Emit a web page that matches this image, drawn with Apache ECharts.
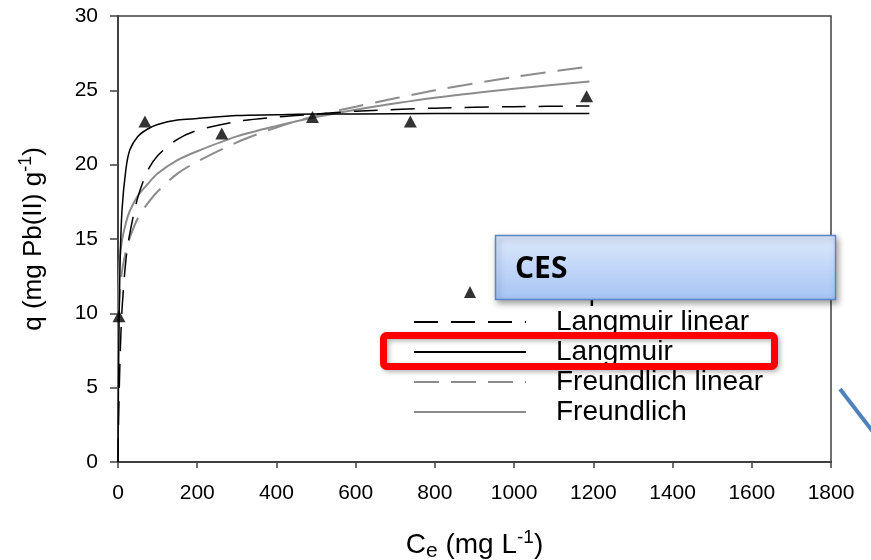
<!DOCTYPE html>
<html>
<head>
<meta charset="utf-8">
<script src="https://cdn.jsdelivr.net/npm/echarts@6/dist/echarts.min.js"></script>
<style>html,body{margin:0;padding:0;background:#fff}#c{width:871px;height:560px}</style>
</head>
<body>
<div id="c"></div>
<script>
// Experimental data (Ce, q)
const expCe = [2.5, 68, 262, 491, 738, 1183];
const expQ  = [9.8, 22.9, 22.1, 23.2, 22.9, 24.6];

// Model curves at these Ce values
const curveCe = [0, 0.5, 2, 5, 10, 20, 30, 50, 75, 100, 150, 200, 300, 400, 500, 600, 800, 1000, 1190];
const langmuirLinearQ   = [0, 1.2, 3.5, 6.8, 10.2, 13.6, 15.4, 17.8, 19.6, 20.6, 21.7, 22.3, 22.9, 23.2, 23.4, 23.6, 23.8, 23.9, 23.95];
const langmuirQ         = [0, 2.6, 7.9, 13.1, 16.9, 19.7, 21.0, 21.9, 22.4, 22.7, 23.0, 23.1, 23.3, 23.35, 23.4, 23.4, 23.45, 23.45, 23.45];
const freundlichLinearQ = [0, 8.1, 10.0, 11.5, 12.8, 14.2, 15.1, 16.4, 17.4, 18.2, 19.4, 20.2, 21.5, 22.5, 23.3, 23.9, 25.0, 25.9, 26.6];
const freundlichQ       = [0, 10.6, 12.4, 13.8, 14.9, 16.1, 16.9, 17.9, 18.7, 19.4, 20.3, 20.9, 21.9, 22.6, 23.2, 23.7, 24.5, 25.1, 25.6];

const xTicks = [0, 200, 400, 600, 800, 1000, 1200, 1400, 1600, 1800];
const yTicks = [0, 5, 10, 15, 20, 25, 30];

const pairs = (xs, ys) => xs.map((x, i) => [x, ys[i]]);

const axisColor = '#404040';
const font = 'Liberation Sans, Arial, sans-serif';
const hiddenSymbol = {color: 'rgba(0,0,0,0)', borderWidth: 0, opacity: 0};

const chart = echarts.init(document.getElementById('c'), null, {renderer: 'canvas'});
chart.setOption({
  animation: false,
  backgroundColor: '#fff',
  grid: {left: 118, right: 40, top: 16, bottom: 98, outerBoundsMode: 'none', containLabel: false,
         show: true, borderColor: axisColor, borderWidth: 1.5, backgroundColor: 'transparent'},
  xAxis: {
    type: 'value', min: xTicks[0], max: xTicks[xTicks.length - 1], interval: 200,
    axisLine: {show: true, lineStyle: {color: axisColor, width: 2}},
    axisTick: {show: true, inside: false, length: 6, lineStyle: {color: axisColor, width: 1.5}},
    axisLabel: {color: '#000', fontSize: 21, fontFamily: font, margin: 21, formatter: v => String(v)},
    splitLine: {show: false},
    name: 'C{sub|e} (mg L{sup|-1})',
    nameLocation: 'middle', nameGap: 66,
    nameTextStyle: {color: '#000', fontSize: 28, fontFamily: font,
      rich: {sub: {fontSize: 21, fontFamily: font, color: '#000', padding: [13, 0, 0, 0]},
             sup: {fontSize: 19, fontFamily: font, color: '#000', padding: [0, 0, 15, 0]}}}
  },
  yAxis: {
    type: 'value', min: yTicks[0], max: yTicks[yTicks.length - 1], interval: 5,
    axisLine: {show: true, lineStyle: {color: axisColor, width: 2}},
    axisTick: {show: true, inside: false, length: 8, lineStyle: {color: axisColor, width: 1.5}},
    axisLabel: {color: '#000', fontSize: 21, fontFamily: font, margin: 20},
    splitLine: {show: false},
    name: 'q (mg Pb(II) g{sup|-1})',
    nameLocation: 'middle', nameGap: 68,
    nameTextStyle: {color: '#000', fontSize: 26, fontFamily: font,
      rich: {sup: {fontSize: 18, fontFamily: font, color: '#000', padding: [0, 0, 15, 0]}}}
  },
  legend: {
    orient: 'vertical', left: 413, top: 277, padding: 0,
    itemWidth: 112, itemHeight: 12, itemGap: 0, symbolKeepAspect: true,
    textStyle: {color: '#000', fontSize: 28, fontFamily: font, lineHeight: 30, padding: [0, 0, 0, 25]},
    data: [
      {name: 'Experimental', icon: 'path://M6,0L12,12L0,12Z', itemStyle: {color: '#000'}},
      {name: 'Langmuir linear', itemStyle: hiddenSymbol},
      {name: 'Langmuir', itemStyle: hiddenSymbol},
      {name: 'Freundlich linear', itemStyle: hiddenSymbol},
      {name: 'Freundlich', itemStyle: hiddenSymbol}
    ]
  },
  series: [
    {name: 'Langmuir linear', type: 'line', data: pairs(curveCe, langmuirLinearQ), smooth: 0.3, symbol: 'none',
     lineStyle: {color: '#000', width: 1.5, type: [24, 13]}, itemStyle: {color: '#000'}, z: 3},
    {name: 'Langmuir', type: 'line', data: pairs(curveCe, langmuirQ), smooth: 0.3, symbol: 'none',
     lineStyle: {color: '#000', width: 1.5}, itemStyle: {color: '#000'}, z: 3},
    {name: 'Freundlich linear', type: 'line', data: pairs(curveCe, freundlichLinearQ), smooth: 0.3, symbol: 'none',
     lineStyle: {color: '#8c8c8c', width: 2, type: [25, 12]}, itemStyle: {color: '#8c8c8c'}, z: 2},
    {name: 'Freundlich', type: 'line', data: pairs(curveCe, freundlichQ), smooth: 0.3, symbol: 'none',
     lineStyle: {color: '#8c8c8c', width: 2}, itemStyle: {color: '#8c8c8c'}, z: 2},
    {name: 'Experimental', type: 'scatter', data: pairs(expCe, expQ), symbol: 'triangle', symbolSize: [13, 12],
     itemStyle: {color: '#000'}, z: 5}
  ],
  graphic: [
    {type: 'rect', z: 100, shape: {x: 495.5, y: 235.5, width: 340, height: 64},
     style: {fill: {type: 'linear', x: 0, y: 0, x2: 0, y2: 1, colorStops: [{offset: 0, color: '#dde9fc'}, {offset: 1, color: '#a6c4f4'}]},
             stroke: '#5a87c6', lineWidth: 1.5, shadowBlur: 6, shadowOffsetX: 2, shadowOffsetY: 3, shadowColor: 'rgba(0,0,0,0.35)'}},
    {type: 'text', z: 101, x: 515, y: 269,
     style: {text: 'CES', fill: '#000', font: 'bold 30px "Open Sans", Calibri, sans-serif', verticalAlign: 'middle'}},
    {type: 'rect', z: 100, shape: {x: 383.5, y: 335.5, width: 391, height: 31, r: 3},
     style: {fill: 'transparent', stroke: '#ff0000', lineWidth: 7, shadowBlur: 5, shadowOffsetX: 2, shadowOffsetY: 2, shadowColor: 'rgba(0,0,0,0.3)'}},
    {type: 'line', z: 100, shape: {x1: 840, y1: 389, x2: 880, y2: 441},
     style: {stroke: '#4f81bd', lineWidth: 4}}
  ]
});
</script>
</body>
</html>
